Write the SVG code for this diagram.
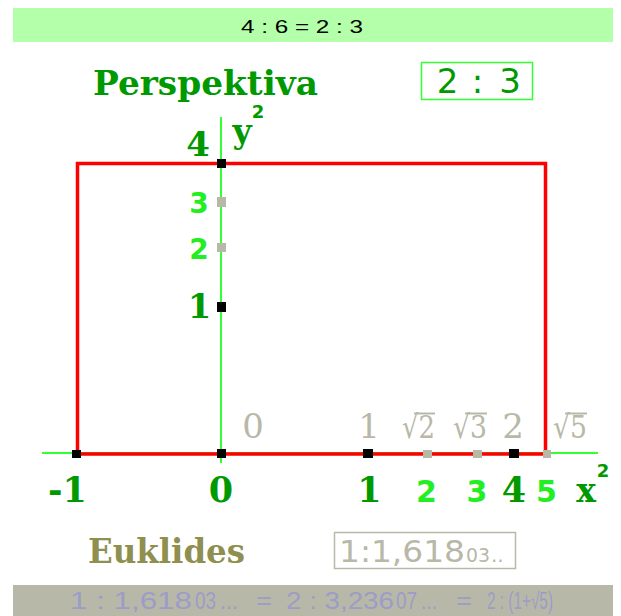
<svg xmlns="http://www.w3.org/2000/svg" width="621" height="616" viewBox="0 0 621 616">
<style>
.serif{font-family:"DejaVu Serif","Liberation Serif",serif;font-weight:bold}
.sans{font-family:"DejaVu Sans","Liberation Sans",sans-serif}
.dk{fill:#009900}
.br{fill:#22ee22;font-family:"DejaVu Sans","Liberation Sans",sans-serif;font-weight:bold}
.gr{fill:#b8b8a8}
.grl{fill:#b8b8a8;font-family:"DejaVu Serif","Liberation Serif",serif}
.tkb{fill:#000}
.tkg{fill:#b8b8a8}
.axis{stroke:#33ff33;stroke-width:2;fill:none}
.bot{fill:#9c9cc8;font-family:"Liberation Sans","DejaVu Sans",sans-serif;font-size:23px}
</style>
<rect width="621" height="616" fill="#ffffff"/>
<g id="top-bar">
<rect x="13" y="8" width="600" height="34" fill="#b3ffaa"/>
<text x="241" y="33" font-family="Liberation Sans, Arial, sans-serif" font-size="19" fill="#000" textLength="122" lengthAdjust="spacingAndGlyphs">4 : 6 = 2 : 3</text>
</g>
<g id="perspektiva">
<text class="serif dk" x="93" y="95" font-size="34" textLength="225" lengthAdjust="spacingAndGlyphs">Perspektiva</text>
</g>
<g id="ratio-box">
<rect x="421.5" y="62.5" width="111" height="37" fill="none" stroke="#33ff33" stroke-width="1.5"/>
<text class="sans dk" x="447.5" y="93" font-size="34" text-anchor="middle">2</text>
<text class="sans dk" x="477.5" y="93" font-size="34" text-anchor="middle">:</text>
<text class="sans dk" x="510" y="93" font-size="34" text-anchor="middle">3</text>
</g>
<g id="connectors">
<line class="axis" x1="221" y1="117" x2="221" y2="463"/>
<line class="axis" x1="42" y1="453" x2="598" y2="453"/>
</g>
<g id="rectangle">
<rect x="77.5" y="163.5" width="468" height="290.5" fill="none" stroke="#ff0000" stroke-width="3.5"/>
</g>
<g id="ticks">
<rect class="tkb" x="72" y="450" width="9" height="8"/>
<rect class="tkb" x="217" y="449" width="9" height="9"/>
<rect class="tkb" x="363" y="449" width="10" height="9"/>
<rect class="tkg" x="423" y="450" width="9" height="8"/>
<rect class="tkg" x="473" y="450" width="9" height="8"/>
<rect class="tkb" x="509" y="449" width="10" height="9"/>
<rect class="tkg" x="543" y="450" width="8" height="8"/>
<rect class="tkb" x="217" y="159" width="9" height="9"/>
<rect class="tkg" x="217" y="197" width="9" height="10"/>
<rect class="tkg" x="217" y="243" width="9" height="9"/>
<rect class="tkb" x="217" y="302" width="9" height="10"/>
</g>
<g id="y-labels">
<text class="serif dk" x="198" y="156" font-size="34" text-anchor="middle">4</text>
<text class="br" x="199" y="213" font-size="28" text-anchor="middle">3</text>
<text class="br" x="199" y="259" font-size="28" text-anchor="middle">2</text>
<text class="serif dk" x="199.5" y="318" font-size="34" text-anchor="middle">1</text>
<text class="serif dk" x="242" y="143" font-size="33" text-anchor="middle">y</text>
<text class="sans dk" x="258" y="118" font-size="18" font-weight="bold" text-anchor="middle">2</text>
</g>
<g id="x-labels">
<text class="serif dk" x="67.5" y="502" font-size="35" text-anchor="middle">-1</text>
<text class="serif dk" x="221" y="502" font-size="35" text-anchor="middle">0</text>
<text class="serif dk" x="369.5" y="502" font-size="35" text-anchor="middle">1</text>
<text class="br" x="426.5" y="502" font-size="30" text-anchor="middle">2</text>
<text class="br" x="477" y="502" font-size="30" text-anchor="middle">3</text>
<text class="serif dk" x="514" y="502" font-size="35" text-anchor="middle">4</text>
<text class="br" x="546.5" y="502" font-size="30" text-anchor="middle">5</text>
<text class="serif dk" x="586" y="502" font-size="33" text-anchor="middle">x</text>
<text class="sans dk" x="603" y="477" font-size="18" font-weight="bold" text-anchor="middle">2</text>
</g>
<g id="gray-labels">
<text class="grl" x="253" y="438" font-size="34" text-anchor="middle">0</text>
<text class="grl" x="369" y="438" font-size="34" text-anchor="middle">1</text>
<text class="grl" x="402" y="438" font-size="32" textLength="33" lengthAdjust="spacingAndGlyphs">√2</text>
<line x1="414" y1="413.5" x2="435" y2="413.5" stroke="#b8b8a8" stroke-width="2"/>
<text class="grl" x="453" y="438" font-size="32" textLength="34" lengthAdjust="spacingAndGlyphs">√3</text>
<line x1="465" y1="413.5" x2="487" y2="413.5" stroke="#b8b8a8" stroke-width="2"/>
<text class="grl" x="513" y="438" font-size="34" text-anchor="middle">2</text>
<text class="grl" x="553" y="438" font-size="32" textLength="34" lengthAdjust="spacingAndGlyphs">√5</text>
<line x1="565" y1="413.5" x2="587" y2="413.5" stroke="#b8b8a8" stroke-width="2"/>
</g>
<g id="euklides">
<text class="serif" x="88" y="563" font-size="34" fill="#8f8f4f" textLength="157" lengthAdjust="spacingAndGlyphs">Euklides</text>
</g>
<g id="golden-box">
<rect x="334.5" y="532.5" width="181" height="36" fill="none" stroke="#b8b8a8" stroke-width="1.5"/>
<text class="sans gr" x="339" y="562" font-size="30" textLength="126" lengthAdjust="spacingAndGlyphs">1:1,618</text>
<text class="sans gr" x="466" y="562" font-size="20" textLength="24" lengthAdjust="spacingAndGlyphs">03</text>
<text class="sans gr" x="491" y="562" font-size="20">..</text>
</g>
<g id="bottom-bar">
<rect x="13" y="585" width="600" height="31" fill="#b8b8a8"/>
<text class="bot" x="70" y="609" textLength="122" lengthAdjust="spacingAndGlyphs">1 : 1,618</text>
<text class="bot" x="195" y="609" font-size="17" textLength="21" lengthAdjust="spacingAndGlyphs">03</text>
<text class="bot" x="220" y="609" textLength="18" lengthAdjust="spacingAndGlyphs">...</text>
<text class="bot" x="256" y="609" textLength="16" lengthAdjust="spacingAndGlyphs">=</text>
<text class="bot" x="286" y="609" textLength="108" lengthAdjust="spacingAndGlyphs">2 : 3,236</text>
<text class="bot" x="396" y="609" font-size="17" textLength="21" lengthAdjust="spacingAndGlyphs">07</text>
<text class="bot" x="421" y="609" textLength="16" lengthAdjust="spacingAndGlyphs">...</text>
<text class="bot" x="456" y="609" textLength="16" lengthAdjust="spacingAndGlyphs">=</text>
<text class="bot" x="487" y="609" textLength="66" lengthAdjust="spacingAndGlyphs">2 : (1+√5)</text>
</g>
</svg>
